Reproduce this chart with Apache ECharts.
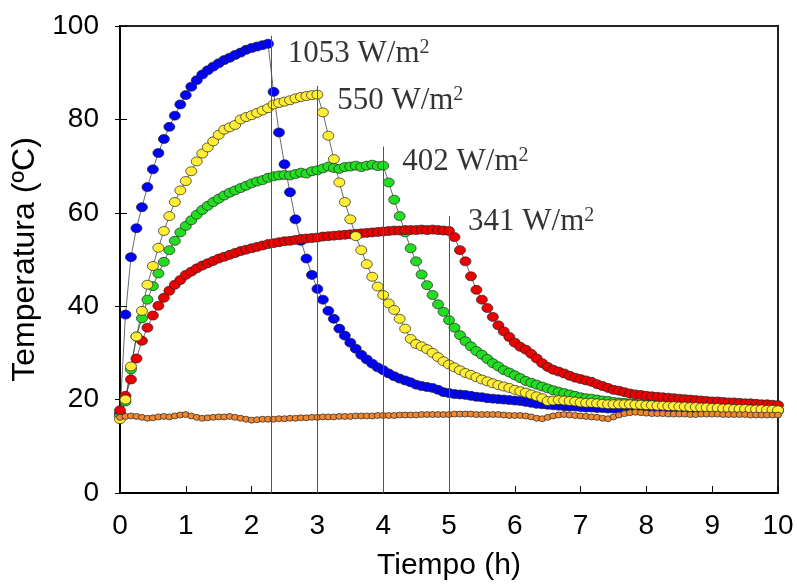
<!DOCTYPE html>
<html>
<head>
<meta charset="utf-8">
<title>Temperatura vs Tiempo</title>
<script src="https://cdn.jsdelivr.net/npm/echarts@6/dist/echarts.min.js"></script>
<style>
  html, body { margin: 0; padding: 0; background: #fff; }
  #chart { width: 797px; height: 586px; }
</style>
</head>
<body>
<div id="chart"></div>
<script>
// lectura cada 5 minutos (1/12 h), de 0 a 10 h
var paso = 1 / 12;

// 1053 W/m2
var azul = [17.0, 38.2, 50.5, 56.7, 61.2, 65.5, 69.3, 72.8, 75.8, 78.4, 80.8, 83.2,
  85.2, 87.0, 88.4, 89.6, 90.5, 91.3, 92.0, 92.7, 93.2, 93.8, 94.3, 94.9,
  95.3, 95.6, 95.9, 96.2, 85.9, 77.2, 70.4, 64.4, 58.6, 54.0, 50.2, 46.7,
  43.7, 41.4, 39.0, 37.3, 35.2, 33.7, 32.2, 30.9, 29.6, 28.6, 27.7, 26.9,
  26.3, 25.6, 25.0, 24.5, 24.1, 23.7, 23.2, 22.9, 22.7, 22.5, 22.1, 21.6,
  21.4, 21.2, 21.1, 21.0, 20.8, 20.6, 20.5, 20.3, 20.2, 20.1, 20.0, 19.9,
  19.8, 19.7, 19.5, 19.3, 19.1, 19.0, 18.9, 18.8, 18.7, 18.6, 18.5, 18.5,
  18.4, 18.3, 18.3, 18.2, 18.2, 18.1, 18.1, 18.0, 18.0, 18.0, 17.9, 17.9,
  17.9, 17.8, 17.8, 17.8, 17.8, 17.7, 17.7, 17.7, 17.7, 17.7, 17.6, 17.6,
  17.6, 17.6, 17.6, 17.6, 17.6, 17.6, 17.6, 17.6, 17.6, 17.6, 17.6, 17.6, 17.6];

// 550 W/m2
var amarillo = [15.8, 20.0, 27.1, 33.5, 39.0, 44.6, 48.6, 52.5, 56.1, 59.3, 62.3, 64.8,
  66.8, 68.9, 71.0, 72.7, 74.0, 75.3, 76.7, 77.8, 78.3, 78.8, 80.0, 80.5,
  80.9, 81.4, 81.9, 82.4, 83.2, 83.5, 83.8, 84.1, 84.5, 84.8, 85.0, 85.2,
  85.3, 81.5, 76.5, 71.5, 66.5, 62.3, 58.6, 55.0, 52.0, 49.0, 46.3, 44.2,
  42.4, 40.6, 39.2, 37.3, 35.2, 33.0, 31.9, 31.4, 30.8, 30.0, 29.1, 28.2,
  27.5, 26.9, 26.3, 25.7, 25.3, 24.8, 24.3, 23.9, 23.5, 23.1, 22.8, 22.5,
  22.1, 21.8, 21.5, 21.1, 20.7, 20.3, 19.7, 19.8, 19.9, 19.8, 19.7, 19.6,
  19.4, 19.3, 19.3, 19.2, 19.1, 19.0, 19.0, 19.0, 19.0, 19.0, 18.9, 18.9,
  18.8, 18.8, 18.7, 18.7, 18.6, 18.6, 18.5, 18.5, 18.4, 18.4, 18.3, 18.3,
  18.2, 18.2, 18.1, 18.1, 18.0, 18.0, 18.0, 17.9, 17.9, 17.9, 17.8, 17.8, 17.7];

// 402 W/m2
var verde = [16.5, 19.6, 26.5, 33.5, 37.4, 41.4, 44.3, 47.0, 49.5, 52.0, 54.0, 55.8,
  57.2, 58.4, 59.6, 60.6, 61.5, 62.3, 63.0, 63.7, 64.3, 64.8, 65.3, 65.8,
  66.3, 66.7, 67.0, 67.5, 67.8, 68.0, 68.1, 68.0, 68.3, 68.6, 68.4, 68.9,
  69.1, 69.5, 69.9, 69.6, 69.4, 69.8, 69.9, 70.1, 69.8, 70.1, 70.3, 70.0,
  70.1, 66.5, 62.8, 59.3, 55.8, 52.4, 49.6, 46.8, 44.5, 42.4, 40.4, 38.8,
  37.0, 35.4, 33.8, 32.5, 31.4, 30.4, 29.6, 28.7, 27.8, 27.1, 26.3, 25.8,
  25.2, 24.6, 24.0, 23.6, 23.2, 22.8, 22.4, 22.0, 21.7, 21.4, 21.1, 20.8,
  20.5, 20.3, 20.2, 20.0, 19.8, 19.7, 19.5, 19.4, 19.3, 19.2, 19.1, 19.0,
  18.9, 18.9, 18.8, 18.8, 18.7, 18.6, 18.6, 18.5, 18.5, 18.4, 18.4, 18.3,
  18.3, 18.2, 18.2, 18.1, 18.1, 18.0, 18.0, 17.9, 17.9, 17.9, 17.8, 17.8, 17.8];

// 341 W/m2
var rojo = [17.7, 20.8, 24.3, 28.8, 32.6, 35.4, 38.0, 40.1, 41.8, 43.3, 44.6, 45.6,
  46.7, 47.4, 48.1, 48.7, 49.2, 49.7, 50.2, 50.6, 51.0, 51.4, 51.8, 52.1,
  52.4, 52.7, 53.0, 53.3, 53.5, 53.7, 53.9, 54.0, 54.2, 54.4, 54.5, 54.6,
  54.7, 54.9, 55.0, 55.1, 55.2, 55.3, 55.4, 55.5, 55.6, 55.7, 55.8, 55.9,
  56.0, 56.1, 56.2, 56.2, 56.3, 56.3, 56.3, 56.4, 56.3, 56.4, 56.3, 56.2,
  56.1, 54.8, 52.0, 49.6, 46.4, 43.5, 41.4, 39.6, 37.7, 35.9, 34.6, 33.4,
  32.2, 31.3, 30.7, 29.8, 28.8, 27.8, 27.0, 26.4, 26.0, 25.6, 25.1, 24.7,
  24.4, 24.1, 23.8, 23.3, 22.9, 22.5, 22.1, 21.9, 21.6, 21.3, 21.1, 21.0,
  20.8, 20.7, 20.6, 20.5, 20.4, 20.3, 20.2, 20.1, 20.0, 19.9, 19.8, 19.7,
  19.6, 19.6, 19.5, 19.4, 19.4, 19.3, 19.2, 19.2, 19.1, 19.0, 19.0, 18.9, 18.8];

// ambiente
var naranja = [16.2, 16.4, 16.5, 16.4, 16.2, 16.0, 16.1, 16.3, 16.4, 16.3, 16.5, 16.7,
  16.8, 16.5, 16.2, 16.0, 16.1, 16.2, 16.3, 16.3, 16.4, 16.2, 16.0, 15.8,
  15.6, 15.7, 15.8, 15.8, 15.8, 15.9, 15.9, 16.0, 16.0, 16.1, 16.1, 16.2,
  16.2, 16.3, 16.3, 16.3, 16.4, 16.4, 16.4, 16.5, 16.5, 16.5, 16.5, 16.6,
  16.6, 16.6, 16.6, 16.7, 16.7, 16.7, 16.7, 16.8, 16.8, 16.8, 16.8, 16.8,
  16.8, 16.9, 16.9, 16.9, 16.9, 16.8, 16.8, 16.8, 16.8, 16.8, 16.7, 16.6,
  16.6, 16.6, 16.5, 16.3, 16.0, 15.9, 16.2, 16.5, 16.7, 16.8, 16.7, 16.6,
  16.5, 16.4, 16.3, 16.2, 16.0, 15.9, 16.3, 16.7, 17.0, 17.2, 17.3, 17.2,
  17.1, 17.0, 17.0, 17.0, 16.9, 16.9, 16.9, 16.9, 16.8, 16.8, 16.9, 16.9,
  16.9, 16.9, 16.8, 16.8, 16.8, 16.8, 16.8, 16.7, 16.7, 16.7, 16.7, 16.7, 16.7];

// lineas verticales: fin del calentamiento (h) y altura hasta donde llegan (ºC)
var corteX = [2.3, 3, 4, 5];
var corteY = [97.9, 87.2, 74.2, 59.3];

// etiquetas de irradiancia
var etiquetas = ['1053', '550', '402', '341'];
var etiquetaX = [2.55, 3.3, 4.29, 5.29];
var etiquetaY = [94, 84, 71, 58];

var xTicks = [0, 1, 2, 3, 4, 5, 6, 7, 8, 9, 10];
var yTicks = [0, 20, 40, 60, 80, 100];

function pares(valores) {
  return valores.map(function (v, i) { return [i * paso, v]; });
}

function serie(nombre, valores, color, size) {
  return {
    name: nombre,
    type: 'line',
    data: pares(valores),
    symbol: 'circle',
    symbolSize: size,
    showAllSymbol: true,
    lineStyle: { color: '#444', width: 0.8 },
    itemStyle: { color: color, borderColor: '#222', borderWidth: 0.7 },
    emphasis: { disabled: true },
    z: 3
  };
}

var chart = echarts.init(document.getElementById('chart'), null, { renderer: 'canvas' });

var lineas = [];
for (var i = 0; i < corteX.length; i++) {
  lineas.push([{ coord: [corteX[i], 0] }, { coord: [corteX[i], corteY[i]] }]);
}

var textos = [];
for (var j = 0; j < etiquetas.length; j++) {
  textos.push({ value: [etiquetaX[j], etiquetaY[j]], nombre: etiquetas[j] });
}

var tickFont = { fontFamily: 'Liberation Sans', fontSize: 28, color: '#000' };

var option = {
  backgroundColor: '#fff',
  animation: false,
  grid: {
    left: 120, right: 19, top: 26, bottom: 90,
    show: true, borderColor: '#222', borderWidth: 2, backgroundColor: 'transparent'
  },
  xAxis: {
    type: 'value', min: 0, max: 10, interval: 1,
    name: 'Tiempo (h)', nameLocation: 'middle', nameGap: 58,
    nameTextStyle: { fontFamily: 'Liberation Sans', fontSize: 30, color: '#000' },
    axisLine: { lineStyle: { color: '#000', width: 2 } },
    axisTick: { inside: true, length: 7, lineStyle: { color: '#000' } },
    axisLabel: Object.assign({ margin: 19, formatter: function (v) { return xTicks.indexOf(v) >= 0 ? String(v) : ''; } }, tickFont),
    splitLine: { show: false }
  },
  yAxis: [{
    type: 'value', min: 0, max: 100, interval: 20,
    name: 'Temperatura (ºC)', nameLocation: 'middle', nameGap: 73,
    nameTextStyle: { fontFamily: 'Liberation Sans', fontSize: 32, color: '#000' },
    axisLine: { lineStyle: { color: '#000', width: 2 } },
    axisTick: { inside: false, length: 5, lineStyle: { color: '#000' } },
    axisLabel: Object.assign({ margin: 21, formatter: function (v) { return yTicks.indexOf(v) >= 0 ? String(v) : ''; } }, tickFont),
    splitLine: { show: false }
  }, {
    // segundo eje solo para que las marcas crucen el eje
    type: 'value', min: 0, max: 100, interval: 20, position: 'left',
    axisLine: { show: false },
    axisTick: { inside: true, length: 7, lineStyle: { color: '#000' } },
    axisLabel: { show: false },
    splitLine: { show: false }
  }],
  series: [
    {
      name: 'cortes',
      type: 'line',
      data: [],
      silent: true,
      z: 1,
      markLine: {
        silent: true,
        symbol: ['none', 'none'],
        label: { show: false },
        lineStyle: { color: '#555', width: 1, type: 'solid' },
        data: lineas
      }
    },
    serie('1053 W/m2', azul, '#0000ff', [11, 9]),
    serie('402 W/m2', verde, '#22dd22', [11, 9]),
    serie('341 W/m2', rojo, '#ee0000', [11, 9]),
    serie('550 W/m2', amarillo, '#ffee33', [11, 9]),
    serie('ambiente', naranja, '#ee8833', [7, 6]),
    {
      name: 'etiquetas',
      type: 'scatter',
      symbolSize: 0,
      silent: true,
      z: 5,
      data: textos,
      label: {
        show: true,
        position: 'right',
        distance: 0,
        color: '#000',
        formatter: function (p) { return '{n|' + p.data.nombre + ' W/m}{s|2}'; },
        rich: {
          n: { fontFamily: 'Liberation Serif', fontSize: 31, color: '#000', lineHeight: 32 },
          s: { fontFamily: 'Liberation Serif', fontSize: 20, color: '#000', verticalAlign: 'top' }
        }
      }
    }
  ]
};

chart.setOption(option);
</script>
</body>
</html>
